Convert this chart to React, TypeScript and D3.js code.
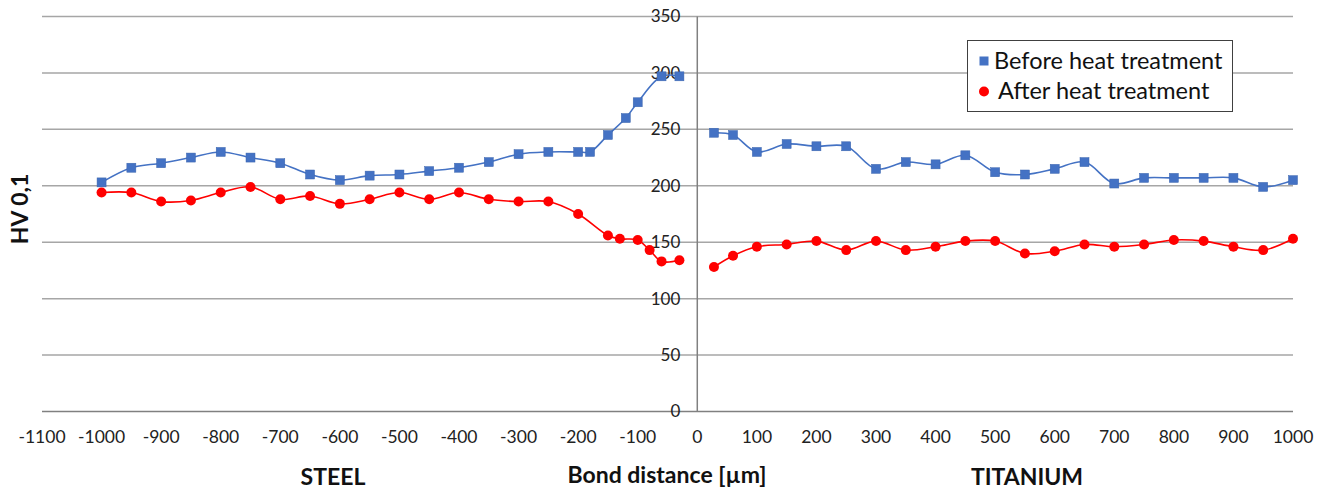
import React from 'react';
import * as d3 from 'd3';

// Hardness profile across the steel / titanium bond
const steelBeforeX = [-1000, -950, -900, -850, -800, -750, -700, -650, -600, -550, -500, -450, -400, -350, -300, -250, -200, -180, -150, -120, -100, -60, -30];
const steelBeforeY = [203, 216, 220, 225, 230, 225, 220, 210, 205, 209, 210, 213, 216, 221, 228, 230, 230, 230, 245, 260, 274, 297, 297];
const steelAfterX = [-1000, -950, -900, -850, -800, -750, -700, -650, -600, -550, -500, -450, -400, -350, -300, -250, -200, -150, -130, -100, -80, -60, -30];
const steelAfterY = [194, 194, 186, 187, 194, 199, 188, 191, 184, 188, 194, 188, 194, 188, 186, 186, 175, 156, 153, 152, 143, 133, 134];

const titanX = [28, 60, 100, 150, 200, 250, 300, 350, 400, 450, 500, 550, 600, 650, 700, 750, 800, 850, 900, 950, 1000];
const titanBeforeY = [247, 245, 230, 237, 235, 235, 215, 221, 219, 227, 212, 210, 215, 221, 202, 207, 207, 207, 207, 199, 205];
const titanAfterY = [128, 138, 146, 148, 151, 143, 151, 143, 146, 151, 151, 140, 142, 148, 146, 148, 152, 151, 146, 143, 153];

const xTicks = [-1100, -1000, -900, -800, -700, -600, -500, -400, -300, -200, -100, 0, 100, 200, 300, 400, 500, 600, 700, 800, 900, 1000];
const yTicks = [0, 50, 100, 150, 200, 250, 300, 350];

const BLUE = '#4472c4';
const RED = '#ff0000';
const FONT = 'Lato, "Open Sans", sans-serif';

export default function App() {
  const width = 1327;
  const height = 493;
  const x = d3.scaleLinear().domain([-1100, 1000]).range([42, 1293]);
  const y = d3.scaleLinear().domain([0, 350]).range([411.5, 16.5]);

  const line = d3.line<[number, number]>()
    .x(d => x(d[0]))
    .y(d => y(d[1]))
    .curve(d3.curveCatmullRom.alpha(0.5));

  const zip = (xs: number[], ys: number[]) => xs.map((v, i) => [v, ys[i]] as [number, number]);

  const before = [zip(steelBeforeX, steelBeforeY), zip(titanX, titanBeforeY)];
  const after = [zip(steelAfterX, steelAfterY), zip(titanX, titanAfterY)];

  return (
    <svg width={width} height={height} style={{ position: 'absolute', left: 0, top: 0, background: '#fff' }}>
      {/* grid */}
      {yTicks.filter(t => t > 0).map(t => (
        <line key={t} x1={x(-1100)} x2={x(1000)} y1={y(t)} y2={y(t)} stroke="#a6a6a6" strokeWidth={1.5} />
      ))}
      {/* axes */}
      <line x1={x(-1100)} x2={x(1000)} y1={y(0)} y2={y(0)} stroke="#808080" strokeWidth={1.5} />
      <line x1={x(0)} x2={x(0)} y1={y(0)} y2={y(350)} stroke="#808080" strokeWidth={1.5} />

      {/* y tick labels */}
      {yTicks.map(t => (
        <text key={t} x={x(0) - 17} y={y(t)} dy="0.35em" textAnchor="end" fontFamily={FONT} fontSize={17} fill="#222">{t}</text>
      ))}
      {/* x tick labels */}
      {xTicks.map(t => (
        <text key={t} x={x(t)} y={437} dy="0.35em" textAnchor="middle" fontFamily={FONT} fontSize={17.5} fill="#222">{t}</text>
      ))}

      {/* series */}
      {before.map((seg, i) => (
        <path key={'b' + i} d={line(seg) || ''} fill="none" stroke={BLUE} strokeWidth={1.6} />
      ))}
      {after.map((seg, i) => (
        <path key={'a' + i} d={line(seg) || ''} fill="none" stroke={RED} strokeWidth={1.6} />
      ))}
      {before.flat().map((d, i) => (
        <rect key={'bm' + i} x={x(d[0]) - 4.5} y={y(d[1]) - 4.5} width={9} height={9} fill={BLUE} stroke="#3a64ae" strokeWidth={0.5} />
      ))}
      {after.flat().map((d, i) => (
        <circle key={'am' + i} cx={x(d[0])} cy={y(d[1])} r={5} fill={RED} />
      ))}

      {/* legend */}
      <rect x={967.5} y={40.5} width={265} height={71} fill="#fff" stroke="#404040" strokeWidth={1} />
      <rect x={979.5} y={56.5} width={9} height={9} fill={BLUE} />
      <text x={994} y={61} dy="0.35em" fontFamily={FONT} fontSize={23.5} fill="#111">Before heat treatment</text>
      <circle cx={984} cy={91.5} r={5} fill={RED} />
      <text x={998} y={91} dy="0.35em" fontFamily={FONT} fontSize={23.5} fill="#111">After heat treatment</text>

      {/* axis titles */}
      <text transform={`translate(20,209) rotate(-90)`} dy="0.35em" textAnchor="middle" fontFamily={FONT} fontWeight="bold" fontSize={23} fill="#111">HV 0,1</text>
      <text x={333} y={477} dy="0.35em" textAnchor="middle" fontFamily={FONT} fontWeight="bold" fontSize={23} fill="#111">STEEL</text>
      <text x={667} y={475} dy="0.35em" textAnchor="middle" fontFamily={FONT} fontWeight="bold" fontSize={23} fill="#111">Bond distance [µm]</text>
      <text x={1027} y={477} dy="0.35em" textAnchor="middle" fontFamily={FONT} fontWeight="bold" fontSize={23} fill="#111">TITANIUM</text>
    </svg>
  );
}
